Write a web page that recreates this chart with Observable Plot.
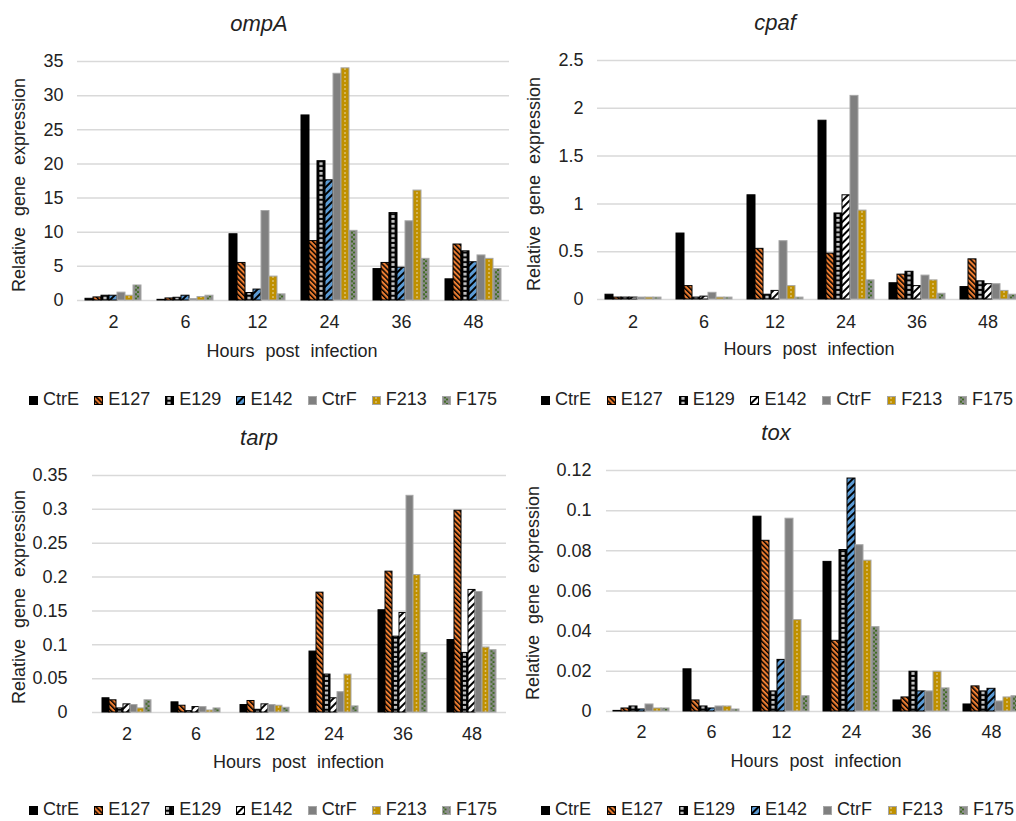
<!DOCTYPE html>
<html><head><meta charset="utf-8">
<script src="https://cdn.jsdelivr.net/npm/d3@7"></script>
<script src="https://cdn.jsdelivr.net/npm/@observablehq/plot@0.6"></script>
<style>
html,body{margin:0;padding:0;background:#fff;overflow:hidden;}
#root{position:relative;width:1016px;height:821px;overflow:hidden;font-family:"Liberation Sans",Arial,sans-serif;color:#222;}
.abs{position:absolute;white-space:nowrap;}
.title{font-size:22px;font-style:italic;line-height:22px;transform:translateX(-50%);}
.xlab{font-size:18px;line-height:18px;transform:translateX(-50%);word-spacing:6px;}
.ylab{font-size:18px;line-height:18px;transform:translate(-50%,-50%) rotate(-90deg);word-spacing:6px;}
.legend{display:flex;justify-content:space-between;font-size:18px;line-height:14px;height:14px;}
.item{display:flex;align-items:center;}
.item svg{margin-right:5px;margin-top:2px;}
</style></head><body><div id="root"></div>
<script>
// ---- data ----
const hours = ["2","6","12","24","36","48"];
const series = ["CtrE","E127","E129","E142","CtrF","F213","F175"];
const titles = ["ompA","cpaf","tarp","tox"];
const xTitle = "Hours post infection";
const yTitle = "Relative gene expression";

// rows = hours, columns = series
const ompA_values = [
  [0.25,0.45,0.7,0.7,1.15,0.7,2.2],
  [0.1,0.3,0.4,0.7,0.2,0.5,0.7],
  [9.7,5.5,1.1,1.6,13.1,3.5,0.9],
  [27.1,8.7,20.4,17.6,33.2,34.0,10.2],
  [4.6,5.5,12.8,4.8,11.6,16.1,6.1],
  [3.1,8.2,7.2,5.6,6.6,6.1,4.6]
];
const cpaf_values = [
  [0.05,0.02,0.02,0.02,0.02,0.02,0.02],
  [0.69,0.14,0.02,0.03,0.07,0.02,0.02],
  [1.09,0.53,0.05,0.09,0.61,0.14,0.02],
  [1.87,0.48,0.9,1.09,2.13,0.93,0.2],
  [0.17,0.26,0.29,0.14,0.25,0.2,0.06],
  [0.13,0.42,0.19,0.16,0.16,0.09,0.05]
];
const tarp_values = [
  [0.021,0.018,0.006,0.012,0.011,0.006,0.018],
  [0.015,0.01,0.002,0.008,0.008,0.003,0.006],
  [0.011,0.017,0.004,0.012,0.011,0.01,0.007],
  [0.09,0.177,0.056,0.021,0.03,0.056,0.009],
  [0.151,0.208,0.112,0.147,0.32,0.203,0.088],
  [0.107,0.298,0.088,0.181,0.178,0.096,0.092]
];
const tox_values = [
  [0.0003,0.0015,0.0025,0.001,0.0035,0.0015,0.0015],
  [0.021,0.0055,0.0025,0.0015,0.0025,0.0025,0.001],
  [0.097,0.085,0.01,0.0257,0.096,0.0455,0.0076],
  [0.0745,0.0352,0.0804,0.116,0.0828,0.0751,0.042],
  [0.0055,0.007,0.0198,0.01,0.01,0.0198,0.0115],
  [0.0035,0.0125,0.01,0.0113,0.005,0.007,0.0076]
];
const ompA_ticks = [0,5,10,15,20,25,30,35];
const cpaf_ticks = [0,0.5,1,1.5,2,2.5];
const tarp_ticks = [0,0.05,0.1,0.15,0.2,0.25,0.3,0.35];
const tox_ticks = [0,0.02,0.04,0.06,0.08,0.1,0.12];

// ---- styles ----
const strokes = {CtrE:"#000",E127:"#000",E129:"#000",E142:"#000",CtrF:"#a6a6a6",F213:"#a6a6a6",F175:"#a6a6a6"};
function fillOf(id, s){
  if (s === "CtrE") return "#000";
  if (s === "CtrF") return "#808080";
  return `url(#${id}-${s})`;
}

const panels = [
  {id:"p1", title:titles[0], values:ompA_values, ticks:ompA_ticks, L:76, R:509, T:61, B:300, yPad:14, xPad:15, e142:"#5B9BD5",
   titleX:259, titleTop:13, xlabX:292, xlabTop:341.5, ylabX:18.5, ylabY:185, legLeft:29, legWidth:468, legTop:392},
  {id:"p2", title:titles[1], values:cpaf_values, ticks:cpaf_ticks, L:595, R:1024, T:60, B:299, yPad:14, xPad:15.5, e142:"#fff",
   titleX:775, titleTop:12, xlabX:809, xlabTop:340, ylabX:533.5, ylabY:184, legLeft:541, legWidth:472, legTop:392},
  {id:"p3", title:titles[2], values:tarp_values, ticks:tarp_ticks, L:92, R:506, T:475, B:712, yPad:25, xPad:14.5, e142:"#fff",
   titleX:259, titleTop:427, xlabX:298.5, xlabTop:752.5, ylabX:18.5, ylabY:597, legLeft:29, legWidth:468, legTop:802},
  {id:"p4", title:titles[3], values:tox_values, ticks:tox_ticks, L:606, R:1026, T:470, B:711, yPad:15, xPad:14, e142:"#5B9BD5",
   titleX:776, titleTop:422, xlabX:816, xlabTop:751.5, ylabX:532.5, ylabY:593, legLeft:541, legWidth:473, legTop:802}
];

const root = document.getElementById("root");

function addPatterns(svg, id, e142){
  const info = s => {
    const r = svg.querySelector(`g[fill="url(#${id}-${s})"] rect`);
    return r ? {x:+r.getAttribute("x"), w:+r.getAttribute("width")} : {x:0, w:8};
  };
  const defs = d3.select(svg).insert("defs", ":first-child");
  // E127: orange with black "\" stripes
  let p = defs.append("pattern").attr("id", id+"-E127").attr("patternUnits","userSpaceOnUse")
    .attr("width",3.6).attr("height",3.6).attr("patternTransform","rotate(-45)");
  p.append("rect").attr("width",3.6).attr("height",3.6).attr("fill","#ED7D31");
  p.append("rect").attr("width",1.5).attr("height",3.6).attr("fill","#000");
  // E142: blue/white with black "/" stripes
  p = defs.append("pattern").attr("id", id+"-E142").attr("patternUnits","userSpaceOnUse")
    .attr("width",5).attr("height",5).attr("patternTransform","rotate(45)");
  p.append("rect").attr("width",5).attr("height",5).attr("fill",e142);
  p.append("rect").attr("width",2).attr("height",5).attr("fill","#000");
  // E129: black with light gray squares
  let a = info("E129");
  p = defs.append("pattern").attr("id", id+"-E129").attr("patternUnits","userSpaceOnUse")
    .attr("x",a.x).attr("y",0).attr("width",a.w).attr("height",4.8);
  p.append("rect").attr("width",a.w).attr("height",4.8).attr("fill","#000");
  p.append("rect").attr("x",(a.w-3.2)/2).attr("y",0.9).attr("width",3.2).attr("height",2.8).attr("fill","#c4c4c4");
  // F213: gold with light dots
  a = info("F213");
  p = defs.append("pattern").attr("id", id+"-F213").attr("patternUnits","userSpaceOnUse")
    .attr("x",a.x).attr("y",0).attr("width",a.w).attr("height",4);
  p.append("rect").attr("width",a.w).attr("height",4).attr("fill","#BF9000");
  p.append("circle").attr("cx",a.w/2).attr("cy",2).attr("r",0.95).attr("fill","#dcc47c");
  // F175: gray with green checker dots
  a = info("F175");
  p = defs.append("pattern").attr("id", id+"-F175").attr("patternUnits","userSpaceOnUse")
    .attr("x",a.x).attr("y",0).attr("width",a.w).attr("height",4.4);
  p.append("rect").attr("width",a.w).attr("height",4.4).attr("fill","#8e8e8e");
  p.append("rect").attr("x",a.w/2-2).attr("y",0.3).attr("width",2).attr("height",2).attr("fill","#3f6b22");
  p.append("rect").attr("x",a.w/2).attr("y",2.5).attr("width",2).attr("height",2).attr("fill","#3f6b22");
}

function addDiv(cls, text, css){
  const d = document.createElement("div");
  d.className = "abs " + cls;
  d.textContent = text;
  Object.assign(d.style, css);
  root.appendChild(d);
  return d;
}

for (const c of panels){
  const data = [];
  hours.forEach((h,i) => series.forEach((s,j) => data.push({hour:h, series:s, value:c.values[i][j]})));
  const mL = 80, mR = 2, mT = 10, mB = 45;
  const width = (c.R - c.L) + mL + mR, height = (c.B - c.T) + mT + mB;
  const marks = [Plot.ruleY(c.ticks, {stroke:"#d9d9d9", strokeWidth:1.5})];
  for (const s of series){
    marks.push(Plot.barY(data.filter(d => d.series === s), {
      x:"series", y:"value", fx:"hour",
      fill: fillOf(c.id, s), stroke: strokes[s], strokeWidth:1
    }));
  }
  const chart = Plot.plot({
    width, height, marginLeft:mL, marginRight:mR, marginTop:mT, marginBottom:mB,
    style:{fontFamily:'"Liberation Sans",Arial,sans-serif', fontSize:"18px", color:"#222", background:"transparent"},
    fx:{domain:hours, padding:0, axis:"bottom", label:null, tickSize:0, tickPadding:c.xPad},
    x:{domain:series, paddingInner:0, paddingOuter:0.87, axis:null},
    y:{domain:[0, c.ticks[c.ticks.length-1]], ticks:c.ticks, tickFormat:d => String(d), tickSize:0, tickPadding:c.yPad, label:null},
    marks
  });
  chart.style.position = "absolute";
  chart.style.left = (c.L - mL) + "px";
  chart.style.top = (c.T - mT) + "px";
  root.appendChild(chart);
  addPatterns(chart, c.id, c.e142);

  addDiv("title", c.title, {left:c.titleX+"px", top:c.titleTop+"px"});
  addDiv("xlab", xTitle, {left:c.xlabX+"px", top:c.xlabTop+"px"});
  addDiv("ylab", yTitle, {left:c.ylabX+"px", top:c.ylabY+"px"});

  const leg = document.createElement("div");
  leg.className = "abs legend";
  Object.assign(leg.style, {left:c.legLeft+"px", top:c.legTop+"px", width:c.legWidth+"px"});
  for (const s of series){
    const it = document.createElement("div");
    it.className = "item";
    it.innerHTML = `<svg width="9" height="9"><rect x="0.5" y="0.5" width="8" height="8" fill="${fillOf(c.id,s)}" stroke="${strokes[s]}" stroke-width="1"/></svg><span>${s}</span>`;
    leg.appendChild(it);
  }
  root.appendChild(leg);
}
</script></body></html>
